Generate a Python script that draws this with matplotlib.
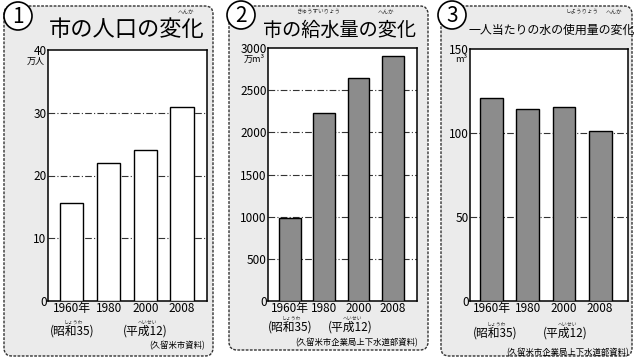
import matplotlib
matplotlib.use("Agg")
import matplotlib.pyplot as plt
from matplotlib.patches import FancyBboxPatch, Circle

plt.rcParams['font.family'] = ['Noto Sans CJK JP', 'DejaVu Sans']

years = ["1960年", "1980", "2000", "2008"]
population = [15.6, 22.0, 24.1, 30.9]        # 万人
water_supply = [980, 2230, 2640, 2900]       # 万m³
per_capita = [121, 114, 115.5, 101]          # m³

W, H = 634, 360
fig = plt.figure(figsize=(W / 100, H / 100), dpi=100)
fig.patch.set_facecolor('white')

bg = fig.add_axes([0, 0, 1, 1], zorder=0)
bg.set_xlim(0, W)
bg.set_ylim(H, 0)
bg.axis('off')

panel_bg = '#ebebeb'
panels = [(4, 6, 209, 350), (229, 6, 199, 344), (441, 6, 191, 350)]
for (x, y, w, h) in panels:
    bg.add_patch(FancyBboxPatch((x, y), w, h, boxstyle="round,pad=0,rounding_size=8",
                                facecolor=panel_bg, edgecolor='#333333', lw=1.0,
                                linestyle=(0, (2, 1))))

def ax_at(x0, y0, x1, y1):
    return fig.add_axes([x0 / W, (H - y1) / H, (x1 - x0) / W, (y1 - y0) / H], zorder=2)

specs = [
    dict(box=(48, 50, 207, 301), vals=population, ylim=40, ticks=[0, 10, 20, 30, 40],
         unit="万人", fc='white', xlim=(-0.65, 3.68), num="1", circ=(18, 16),
         title="市の人口の変化", tx=127, tfs=16, tr=[("へんか", 186)],
         showa=72, heisei=145, src="(久留米市資料)", srcx=205, row1=310, row2=331, srcy=346),
    dict(box=(268, 48, 417, 301), vals=water_supply, ylim=3000,
         ticks=[0, 500, 1000, 1500, 2000, 2500, 3000],
         unit="万m³", fc='#8c8c8c', xlim=(-0.64, 3.7), num="2", circ=(241, 15),
         title="市の給水量の変化", tx=339, tfs=13.8, tr=[("きゅうすいりょう", 318), ("へんか", 386)],
         showa=290, heisei=350, src="(久留米市企業局上下水道部資料)", srcx=418, row1=309, row2=327, srcy=343),
    dict(box=(470, 49, 628, 301), vals=per_capita, ylim=150, ticks=[0, 50, 100, 150],
         unit="m³", fc='#8c8c8c', xlim=(-0.6, 3.77), num="3", circ=(452, 15),
         title="一人当たりの水の使用量の変化", tx=552, tfs=8.6, tr=[("しようりょう", 582), ("へんか", 614)],
         showa=495, heisei=565, src="(久留米市企業局上下水道部資料)", srcx=629, row1=312, row2=333, srcy=353),
]

for s in specs:
    x0, y0, x1, y1 = s['box']
    ax = ax_at(x0, y0, x1, y1)
    ax.set_facecolor('white')
    xs = range(len(s['vals']))
    ax.bar(xs, s['vals'], width=0.63, color=s['fc'], edgecolor='black', lw=1.0, zorder=3)
    ax.set_xlim(*s['xlim'])
    ax.set_ylim(0, s['ylim'])
    for t in s['ticks'][1:-1]:
        ax.axhline(t, color='#333333', lw=0.8, ls=(0, (6, 2, 1, 2)), zorder=1)
    ax.set_yticks(s['ticks'])
    ax.set_yticklabels([str(t) for t in s['ticks']], fontsize=8.5)
    ax.tick_params(axis='y', length=0, pad=1)
    ax.set_xticks(list(xs))
    ax.set_xticklabels(years, fontsize=8.5)
    ax.tick_params(axis='x', length=0, pad=1)
    for sp in ax.spines.values():
        sp.set_linewidth(1.1)
        sp.set_color('black')
    # unit label
    bg.text(x0 - 3, y0 + 11, s['unit'], fontsize=6.5, ha='right', va='center')
    # title
    bg.text(s['tx'], 30, s['title'], fontsize=s['tfs'], ha='center', va='center')
    for txt, rx in s['tr']:
        bg.text(rx, 12, txt, fontsize=4, ha='center', va='center', color='#333333')
    # circled number
    cx, cy = s['circ']
    bg.add_patch(Circle((cx, cy), 14, facecolor='white', edgecolor='black', lw=1.2, zorder=3))
    bg.text(cx, cy + 1, s['num'], fontsize=15, ha='center', va='center', zorder=4)
    # era labels
    bg.text(s['showa'], s['row2'], "(昭和35)", fontsize=8.5, ha='center', va='center')
    bg.text(s['showa'] + 2, s['row2'] - 9, "しょうわ", fontsize=3.5, ha='center', va='center', color='#333333')
    bg.text(s['heisei'], s['row2'], "(平成12)", fontsize=8.5, ha='center', va='center')
    bg.text(s['heisei'] + 2, s['row2'] - 9, "へいせい", fontsize=3.5, ha='center', va='center', color='#333333')
    bg.text(s['srcx'], s['srcy'], s['src'], fontsize=6, ha='right', va='center')

fig.savefig("out.png", dpi=100, facecolor='white')
